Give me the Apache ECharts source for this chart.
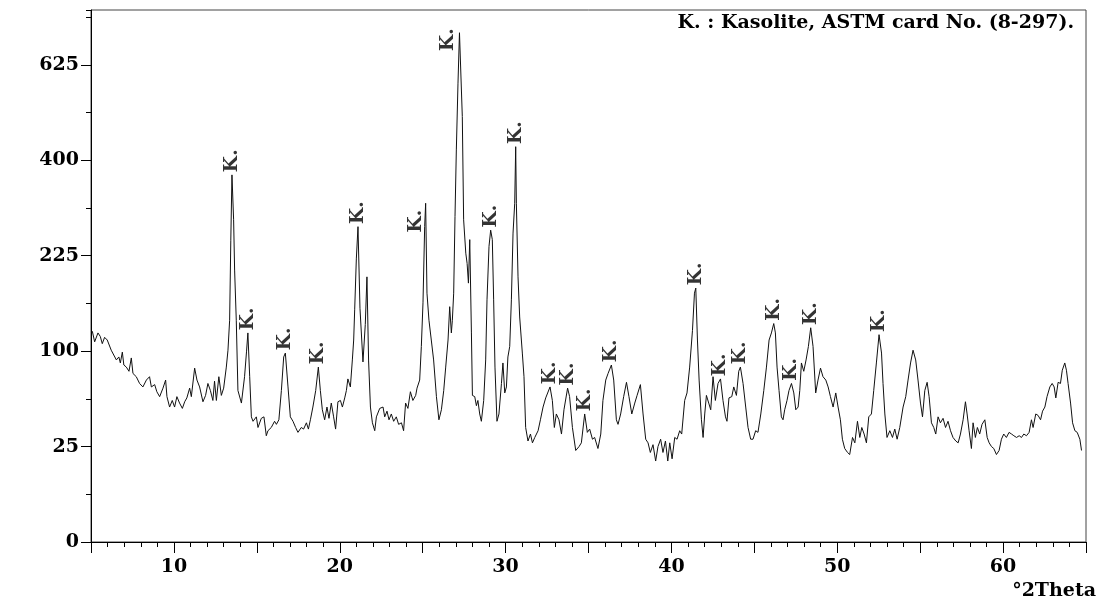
<!DOCTYPE html>
<html>
<head>
<meta charset="utf-8">
<script src="https://cdn.jsdelivr.net/npm/echarts@6/dist/echarts.min.js"></script>
<style>
  html, body { margin: 0; padding: 0; background: #fff; }
  #chart { width: 1097px; height: 604px; }
</style>
</head>
<body>
<div id="chart"></div>
<script>
// XRD scan, 2-theta (deg) and counts
const twoTheta = [
  5.08,5.22,5.42,5.56,5.68,5.82,5.98,6.22,6.32,6.53,
  6.68,6.77,6.89,6.98,7.13,7.29,7.43,7.53,7.73,7.93,
  8.13,8.34,8.53,8.64,8.84,8.97,9.14,9.34,9.50,9.58,
  9.74,9.90,10.04,10.18,10.34,10.51,10.65,10.78,10.95,11.05,
  11.25,11.39,11.55,11.75,11.91,12.05,12.20,12.35,12.45,12.56,
  12.71,12.86,13.00,13.16,13.26,13.36,13.43,13.50,13.60,13.66,
  13.76,13.86,14.07,14.26,14.38,14.46,14.57,14.67,14.77,14.97,
  15.07,15.27,15.43,15.57,15.67,15.87,16.07,16.18,16.33,16.48,
  16.62,16.72,16.88,17.02,17.18,17.34,17.48,17.68,17.82,17.99,
  18.11,18.23,18.38,18.55,18.71,18.83,18.95,19.09,19.23,19.35,
  19.49,19.63,19.75,19.89,20.04,20.16,20.30,20.40,20.49,20.64,
  20.76,20.84,20.90,21.00,21.10,21.22,21.40,21.54,21.64,21.74,
  21.85,21.97,22.11,22.21,22.41,22.61,22.71,22.85,22.97,23.11,
  23.25,23.41,23.55,23.72,23.85,23.97,24.11,24.26,24.41,24.58,
  24.66,24.82,24.92,25.02,25.12,25.18,25.26,25.38,25.52,25.66,
  25.83,25.98,26.13,26.27,26.39,26.53,26.63,26.73,26.79,26.87,
  26.95,27.03,27.13,27.22,27.39,27.47,27.60,27.68,27.76,27.84,
  27.94,28.00,28.14,28.24,28.33,28.44,28.54,28.68,28.80,28.88,
  29.00,29.10,29.20,29.28,29.36,29.48,29.60,29.75,29.84,29.95,
  30.05,30.14,30.25,30.35,30.45,30.55,30.61,30.65,30.75,30.85,
  31.01,31.11,31.21,31.35,31.50,31.62,31.76,31.96,32.10,32.26,
  32.42,32.52,32.68,32.82,32.94,33.06,33.22,33.37,33.52,33.74,
  33.86,34.03,34.23,34.43,34.57,34.77,34.93,35.07,35.24,35.37,
  35.57,35.74,35.87,36.04,36.18,36.38,36.52,36.68,36.78,36.94,
  37.12,37.29,37.44,37.61,37.79,37.93,38.13,38.29,38.45,38.59,
  38.73,38.89,39.05,39.19,39.35,39.49,39.64,39.78,39.90,40.04,
  40.20,40.34,40.50,40.62,40.80,40.94,41.10,41.27,41.39,41.47,
  41.57,41.67,41.81,41.91,42.01,42.11,42.25,42.37,42.51,42.65,
  42.81,42.96,43.11,43.26,43.35,43.47,43.64,43.76,43.92,44.06,
  44.16,44.32,44.48,44.62,44.78,44.92,45.08,45.22,45.39,45.57,
  45.73,45.89,46.03,46.17,46.27,46.37,46.49,46.63,46.73,46.83,
  46.97,47.09,47.24,47.38,47.50,47.64,47.74,47.84,47.98,48.12,
  48.26,48.40,48.54,48.70,48.84,48.99,49.14,49.31,49.45,49.59,
  49.75,49.91,50.05,50.19,50.31,50.45,50.62,50.75,50.92,51.06,
  51.22,51.36,51.48,51.62,51.76,51.90,52.06,52.20,52.36,52.52,
  52.67,52.76,52.87,53.00,53.17,53.33,53.47,53.61,53.77,53.97,
  54.13,54.27,54.42,54.57,54.73,54.87,55.02,55.14,55.28,55.42,
  55.54,55.68,55.82,55.94,56.08,56.22,56.38,56.53,56.68,56.83,
  56.98,57.15,57.29,57.43,57.59,57.73,57.83,57.95,58.09,58.19,
  58.33,58.45,58.59,58.73,58.90,59.04,59.16,59.30,59.44,59.60,
  59.76,59.90,60.04,60.20,60.36,60.51,60.65,60.81,60.97,61.11,
  61.25,61.41,61.57,61.71,61.81,61.97,62.11,62.26,62.38,62.52,
  62.65,62.82,62.96,63.08,63.18,63.32,63.46,63.57,63.72,63.82,
  63.92,64.07,64.19,64.33,64.47,64.63,64.73
]
const counts = [
  122,110,120,116,108,115,112,101,99,91,
  94,88,99,86,84,80,93,78,75,69,
  66,72,75,66,68,62,58,65,72,58,
  50,55,50,58,53,49,54,57,65,58,
  83,72,66,54,59,69,63,55,71,55,
  75,59,65,84,101,135,250,370,285,203,
  135,63,53,75,100,120,75,43,40,43,
  36,42,43,31,34,36,40,38,41,63,
  94,98,66,43,40,36,33,36,35,39,
  35,41,50,63,84,63,48,41,50,42,
  53,43,35,54,55,50,57,63,73,66,
  91,112,148,220,273,150,89,130,193,90,
  50,39,34,43,49,50,43,47,41,45,
  40,43,38,39,34,53,49,62,55,59,
  65,72,105,157,273,315,170,135,112,91,
  58,41,48,63,84,112,152,120,135,170,
  291,422,578,712,497,285,229,213,184,251,
  120,59,58,51,55,45,40,55,91,161,
  240,267,251,161,84,40,45,69,88,61,
  66,94,105,161,262,315,429,315,193,139,
  98,75,36,28,32,27,30,34,41,50,
  57,58,66,55,36,45,41,32,48,65,
  58,36,23,25,27,45,33,35,29,30,
  24,32,55,72,78,86,72,41,38,45,
  58,70,58,45,53,59,68,45,29,27,
  22,26,18,25,29,22,28,18,27,19,
  30,29,34,32,55,61,84,123,170,177,
  112,72,41,30,45,59,53,48,75,55,
  69,73,55,43,40,57,58,66,59,80,
  84,69,50,36,29,29,34,33,45,63,
  84,112,120,131,120,84,63,43,41,48,
  55,63,69,61,48,50,63,88,80,91,
  105,126,105,61,72,83,75,72,66,58,
  50,61,50,41,29,24,22,21,30,27,
  40,30,36,32,27,43,45,63,88,118,
  98,69,45,30,34,30,35,29,36,50,
  58,72,88,101,91,72,53,43,63,70,
  58,39,36,32,43,39,42,36,40,34,
  30,28,27,32,41,54,45,34,24,39,
  30,36,32,38,41,30,27,25,24,21,
  23,29,32,30,33,32,31,30,31,30,
  32,31,33,41,36,45,44,41,47,50,
  58,66,69,66,57,70,69,81,88,81,
  69,53,39,34,33,29,23
]

// peaks marked as kasolite
const peakTheta = [13.50, 14.46, 16.72, 18.71, 21.10, 25.18, 27.22, 29.10, 30.61, 32.68,
  33.74, 34.77, 36.38, 41.47, 42.96, 44.16, 46.17, 47.24, 48.40, 52.52]
const peakMark = 'K.'
const legendText = 'K. : Kasolite, ASTM card No. (8-297).'
const xName = '°2Theta'
const yTop = 777  // counts at top of frame

// square-root intensity scale
const sq = v => Math.sqrt(v)
const FONT = 'DejaVu Serif'

const curve = twoTheta.map((t, i) => [t, sq(counts[i])])
const peaks = peakTheta.map(t => {
  const i = twoTheta.indexOf(t)
  const item = { value: [t, sq(counts[i])] }
  // two crowded peaks carry their mark on the left of the line
  // (label offset is in the rotated text frame)
  if (t === 25.18) item.label = { offset: [-32, -10] }
  if (t === 27.22) item.label = { offset: [-21, -11] }
  return item
})

const chart = echarts.init(document.getElementById('chart'))
chart.setOption({
  animation: false,
  backgroundColor: '#fff',
  title: {
    text: legendText, right: 18, top: 9,
    textStyle: { fontFamily: FONT, fontWeight: 'bold', fontSize: 19, color: '#000' },
  },
  grid: { left: 91, right: 11, top: 10, bottom: 62, show: true, borderColor: '#444', borderWidth: 1 },
  xAxis: {
    type: 'value', min: 5, max: 65, interval: 5,
    axisLine: { lineStyle: { color: '#000', width: 1 } },
    axisTick: { length: 11, lineStyle: { color: '#000' } },
    minorTick: { show: true, splitNumber: 5, length: 5, lineStyle: { color: '#000' } },
    splitLine: { show: false },
    axisLabel: {
      margin: 16, color: '#000', fontFamily: FONT, fontWeight: 'bold', fontSize: 19,
      formatter: v => (v % 10 === 0 ? String(v) : ''),
    },
  },
  yAxis: [
    {
      type: 'value', min: 0, max: sq(yTop), interval: 5, position: 'left',
      axisLine: { show: true, lineStyle: { color: '#000', width: 1 } },
      axisTick: { length: 10, lineStyle: { color: '#000' } },
      splitLine: { show: false },
      axisLabel: {
        margin: 12, color: '#000', fontFamily: FONT, fontWeight: 'bold', fontSize: 19,
        showMaxLabel: false, formatter: v => String(Math.round(v * v)),
      },
    },
    {
      type: 'value', min: 0, max: sq(yTop), interval: 2.5, position: 'left',
      axisLine: { show: false },
      axisTick: { length: 5, lineStyle: { color: '#000' } },
      axisLabel: { show: false },
      splitLine: { show: false },
    },
  ],
  graphic: [{
    type: 'text', right: 1, top: 582,
    style: { text: xName, font: 'bold 19px "DejaVu Serif"', fill: '#000' },
  }],
  series: [
    {
      type: 'line', data: curve, showSymbol: false, symbol: 'none',
      lineStyle: { width: 1, color: '#111' },
    },
    {
      type: 'scatter', data: peaks, symbolSize: 1,
      itemStyle: { color: 'rgba(0,0,0,0)' },
      label: {
        show: true, formatter: peakMark, position: 'top', distance: 2, rotate: 90,
        align: 'left', verticalAlign: 'middle',
        fontFamily: FONT, fontWeight: 'bold', fontSize: 19, color: '#000',
      },
    },
  ],
})
</script>
</body>
</html>
